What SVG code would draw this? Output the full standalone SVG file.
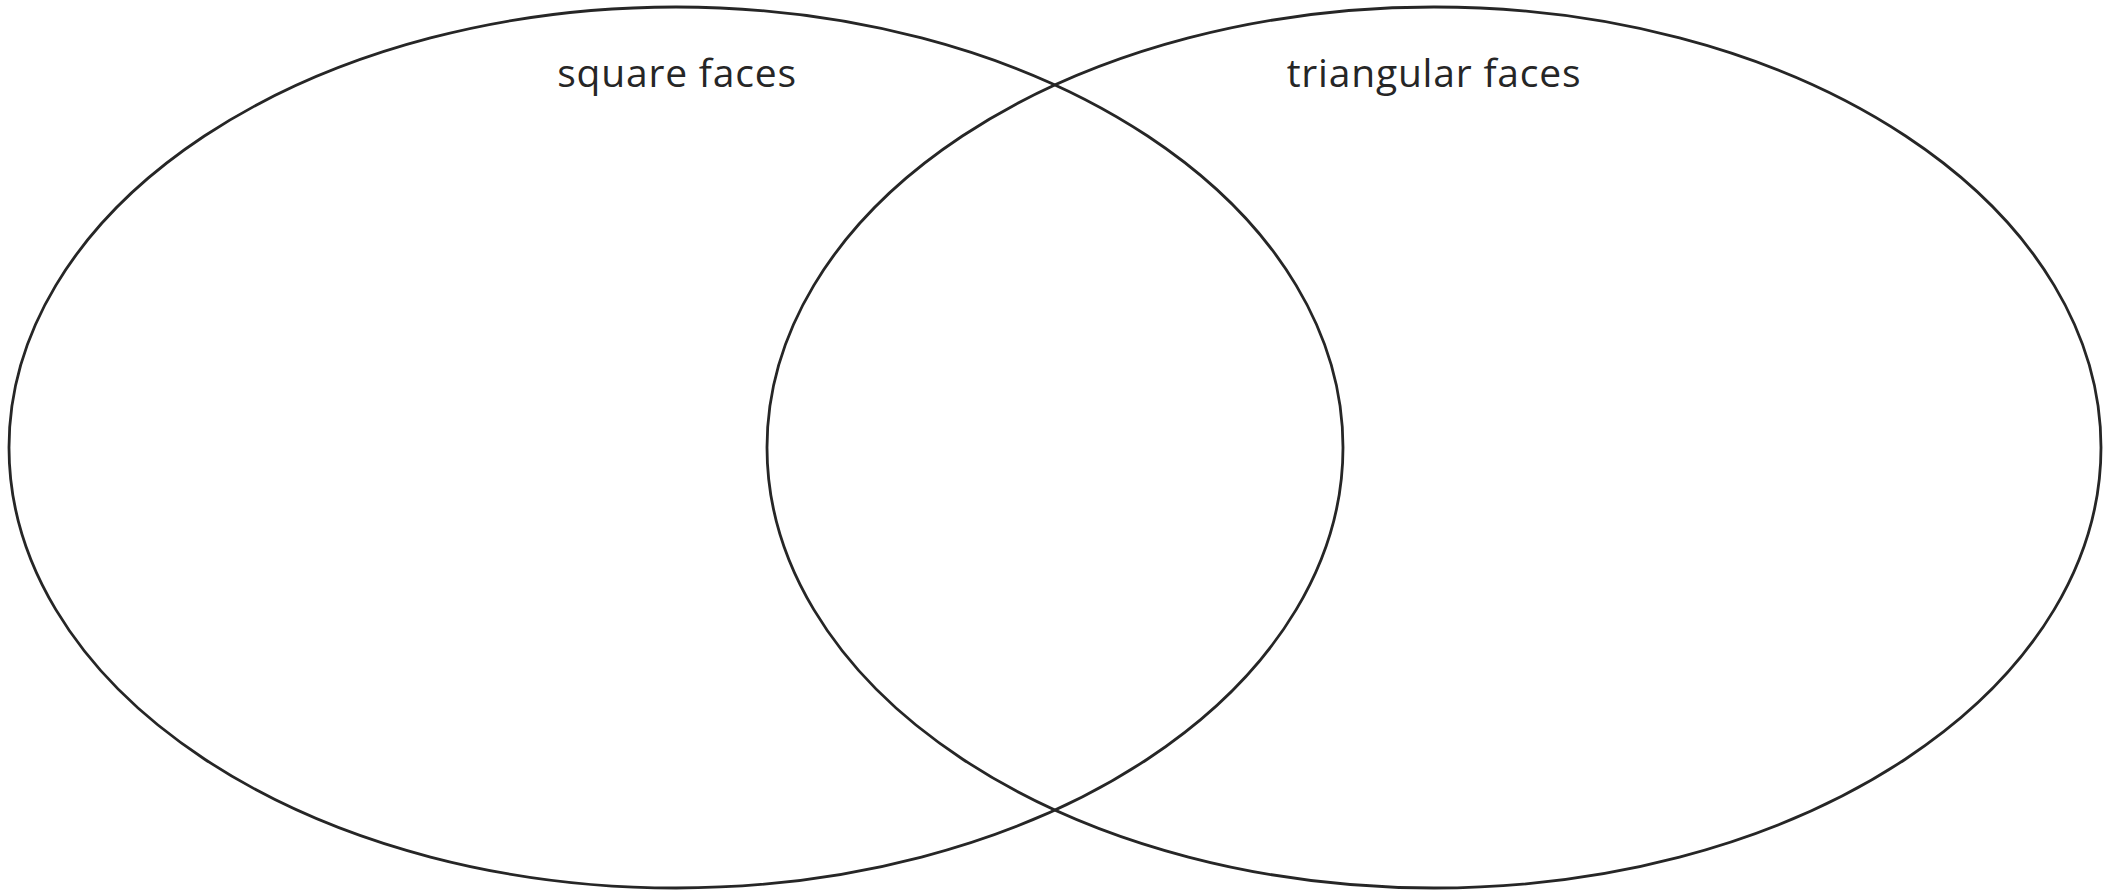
<svg xmlns="http://www.w3.org/2000/svg" width="2111" height="891" viewBox="0 0 2111 891">
<style>
.set{fill:none;stroke:#262626;stroke-width:2.8}
.lbl{font-family:"Open Sans","Liberation Sans",sans-serif;font-size:39px;letter-spacing:0.8px;fill:#262626;text-anchor:middle}
</style>
<rect width="2111" height="891" fill="#fff"/>
<g id="set-square">
<ellipse class="set" cx="676" cy="447.5" rx="667" ry="440.5"/>
<text class="lbl" x="677" y="87">square faces</text>
</g>
<g id="set-triangular">
<ellipse class="set" cx="1434" cy="447.5" rx="667" ry="440.5"/>
<text class="lbl" x="1434" y="87">triangular faces</text>
</g>
<g id="connectors"/>
</svg>
